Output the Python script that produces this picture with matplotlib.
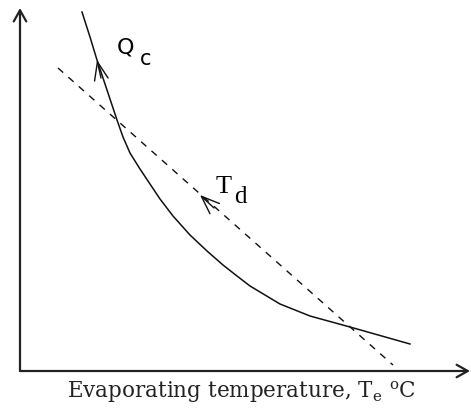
import matplotlib
matplotlib.use("Agg")
import matplotlib.pyplot as plt
from matplotlib.patches import FancyArrowPatch

plt.rcParams["font.family"] = ["DejaVu Serif"]
plt.rcParams["mathtext.fontset"] = "dejavuserif"

# Qc curve (diagram units, origin at axis corner)
qc_x = [62, 70, 77, 87, 97, 103, 110, 120, 130, 140, 153, 170, 187, 203, 217, 230, 260, 290, 330, 390]
qc_y = [359, 334, 311, 281, 251, 234, 218, 202, 187, 172, 155, 136, 120, 106, 95, 85, 67, 55, 44, 27]

# Td straight dashed line
td_x = [38, 373]
td_y = [303, 6]

X_MAX, Y_MAX = 450, 363

fig = plt.figure(figsize=(4.71, 4.18), dpi=100)
ax = fig.add_axes([20 / 471, 47 / 418, 450 / 471, 363 / 418])
ax.set_xlim(0, X_MAX)
ax.set_ylim(0, Y_MAX)
ax.axis("off")

# axes drawn as arrows
for tip in [(0, Y_MAX), (X_MAX, 0)]:
    ax.add_patch(FancyArrowPatch((0, 0), tip, arrowstyle="->,head_length=0.8,head_width=0.45",
                                 mutation_scale=10, lw=1.6, color="#222", clip_on=False,
                                 shrinkA=0, shrinkB=0))

ax.plot(qc_x, qc_y, color="#111", lw=1.1)
ax.plot(td_x, td_y, color="#111", lw=1.0, dashes=(5, 5))

# direction arrows on the curves
ax.add_patch(FancyArrowPatch((81, 293), (77, 311), arrowstyle="->,head_length=1.3,head_width=0.5",
                             mutation_scale=10, lw=1.0, color="#111", shrinkA=0, shrinkB=0))
ax.add_patch(FancyArrowPatch((194, 163), (180, 176), arrowstyle="->,head_length=1.3,head_width=0.5",
                             mutation_scale=10, lw=1.0, color="#111", shrinkA=0, shrinkB=0))

ax.text(97, 314, "Q", fontsize=16, ha="left", va="bottom", family="DejaVu Sans")
ax.text(120, 302, "c", fontsize=15, ha="left", va="bottom", family="DejaVu Sans")
ax.text(196, 173, "T", fontsize=19, ha="left", va="bottom", family="Liberation Serif")
ax.text(214, 163, "d", fontsize=18, ha="left", va="bottom", family="Liberation Serif")

fig.text(241 / 471, 1 - 392 / 418, r"Evaporating temperature, T$_\mathrm{e}$ $^\mathrm{o}$C",
         fontsize=15.5, ha="center", va="center", color="#222")

fig.savefig("out.png", dpi=100)
